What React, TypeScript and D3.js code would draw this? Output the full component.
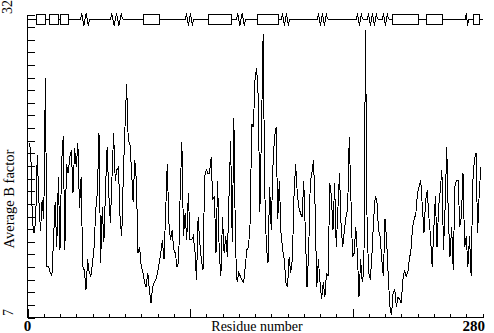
import React from "react";
import * as d3 from "d3";

// Average B factor per residue, residues 1..279
const bFactors: number[] = [
  21.4, 20.8, 14.9, 14.0, 14.9, 20.4, 16.7, 14.1, 16.7, 15.1,
  26.8, 11.2, 11.2, 10.7, 10.4, 13.4, 16.5, 12.8, 18.6, 12.6,
  19.8, 22.0, 12.6, 19.7, 18.9, 20.2, 20.8, 17.3, 21.0, 19.4,
  21.4, 16.0, 18.6, 11.2, 10.9, 9.3, 11.8, 10.7, 10.4, 11.5,
  12.8, 15.9, 17.3, 22.2,
  11.5, 16.1, 13.2, 17.5, 21.1, 17.3, 14.8, 18.6, 22.2, 18.3,
  19.2, 19.4, 15.1, 13.7, 18.9, 22.7, 26.3, 21.6, 21.4, 19.2,
  16.5, 20.0, 18.3, 12.3, 12.8, 11.2, 10.7, 9.9, 9.5, 10.7,
  9.3, 8.2, 9.5, 9.9, 10.1, 10.7, 11.5, 12.3, 13.4, 11.8,
  15.6, 19.7, 14.8, 13.4, 14.2, 12.6, 12.3, 11.2,
  11.5, 17.5, 21.5, 13.7, 15.6, 13.4, 17.3, 13.4, 13.4, 13.7,
  12.6, 10.1, 15.3, 13.2, 11.8, 10.9, 18.6, 19.2, 18.9, 18.9,
  20.2, 16.7, 17.0, 12.3, 18.3, 12.3, 10.4, 15.3, 12.3, 13.7,
  12.0, 17.0, 21.6, 13.2, 23.5, 12.8, 9.9, 10.7, 10.4, 10.1,
  9.9, 11.2, 12.6, 12.8, 14.8, 23.0, 22.7, 26.6,
  27.6, 25.2, 15.7, 22.5, 30.4, 17.5, 12.8, 11.5, 17.8, 14.2,
  19.4, 21.9, 22.7, 15.1, 18.3, 14.0, 12.6, 11.8, 9.9, 9.5,
  12.0, 10.7, 11.8, 17.0, 19.7, 17.3, 16.1, 15.6, 15.3, 18.3,
  14.0, 9.5, 12.3, 18.1, 18.9, 20.0, 16.1, 9.5, 11.8, 9.9,
  8.5, 9.9, 8.7, 10.7, 10.4, 18.1, 17.0, 14.2,
  18.1, 12.8, 15.9, 18.9, 14.5, 12.8, 14.2, 15.3, 15.9, 21.9,
  17.0, 12.0, 12.3, 14.5, 12.3, 8.7, 11.8, 9.9, 10.9, 30.7,
  14.2, 10.7, 10.1, 12.3, 15.1, 17.0, 16.7, 14.2, 13.7, 11.8,
  10.4, 15.1, 13.4, 10.4, 7.9, 7.2, 9.1, 9.3, 7.9, 8.7,
  8.5, 8.2, 10.1, 10.9, 10.4, 10.7, 11.8, 12.6,
  14.5, 15.1, 15.6, 17.3, 17.8, 18.3, 16.1, 14.0, 16.7, 17.5,
  15.3, 13.7, 11.2, 14.2, 17.0, 12.8, 16.1, 17.5, 19.2, 12.6,
  16.1, 21.1, 15.1, 12.0, 14.5, 10.9, 17.8, 18.3, 18.3, 14.5,
  15.3, 18.9, 12.8, 13.7, 11.2, 13.7, 10.4, 18.1, 20.0, 20.6,
  14.0, 17.3, 19.4,
];
const firstResidue = 1;

// Secondary structure (residue ranges)
const strands: [number, number][] = [
  [5, 11], [13, 19], [20, 25], [71, 81], [111, 125], [141, 154],
  [224, 240], [245, 255], [274, 278],
];
const helices: [number, number][] = [
  [32, 38], [51, 58], [97, 102], [128, 134], [156, 161], [178, 184],
  [202, 206], [209, 215], [218, 222], [269, 271],
];

const xDomain: [number, number] = [0, 280];
const yDomain: [number, number] = [7, 32];
const xTickLabels = ["0", "280"];
const yTickLabels = ["7", "32"];
const xTitle = "Residue number";
const yTitle = "Average B factor";

const FONT = "'Liberation Serif', 'Times New Roman', serif";

export default function App() {
  const W = 494;
  const H = 333;
  const x = d3.scaleLinear().domain(xDomain).range([27.5, 482.5]);
  const y = d3.scaleLinear().domain(yDomain).range([317.5, 14.5]);

  const linePath =
    d3
      .line<number>()
      .x((_, i) => x(i + firstResidue))
      .y((d) => y(d))(bFactors) || "";

  const xTicks = d3.range(xDomain[0], xDomain[1] + 1, 10);
  const nY = 24;
  const yTicks = d3.range(0, nY + 1).map(
    (i) => yDomain[0] + (i * (yDomain[1] - yDomain[0])) / nY
  );

  const ssY = 19.5;
  const ssHalf = 5;
  const px = (r: number) => Math.round(x(r)) + 0.5;

  const helixPath = (a: number, b: number) => {
    const x0 = px(a);
    const x1 = px(b);
    const w = x1 - x0;
    const n = Math.max(2, Math.round(w / 2.2));
    const pts: [number, number][] = [[x0, ssY]];
    for (let i = 0; i < n; i++) {
      const xx = x0 + ((i + 0.5) * w) / n;
      pts.push([xx, i % 2 === 0 ? ssY - ssHalf - 1 : ssY + ssHalf + 1]);
    }
    pts.push([x1, ssY]);
    return d3.line()(pts) || "";
  };

  return (
    <svg
      width={W}
      height={H}
      style={{ position: "absolute", left: 0, top: 0, background: "#fff" }}
      shapeRendering="crispEdges"
    >
      <rect x={0} y={0} width={W} height={H} fill="#fff" />
      {/* secondary structure track */}
      <line x1={x(0)} x2={x(280)} y1={ssY} y2={ssY} stroke="#000" />
      {helices.map(([a, b], i) => (
        <g key={"h" + i}>
          <rect x={px(a)} y={ssY - 1} width={px(b) - px(a)} height={2} fill="#fff" />
          <path d={helixPath(a, b)} fill="none" stroke="#000" strokeWidth={1} />
        </g>
      ))}
      {strands.map(([a, b], i) => (
        <rect
          key={"s" + i}
          x={px(a)}
          y={ssY - ssHalf}
          width={px(b) - px(a)}
          height={ssHalf * 2}
          fill="#fff"
          stroke="#000"
        />
      ))}

      {/* axes */}
      <line x1={x(0)} x2={x(0)} y1={y(yDomain[1])} y2={y(yDomain[0])} stroke="#000" />
      <line x1={x(0)} x2={x(280)} y1={y(yDomain[0])} y2={y(yDomain[0])} stroke="#000" />
      {yTicks.map((t, i) => (
        <line key={"yt" + i} x1={x(0)} x2={x(0) + 7} y1={Math.round(y(t)) + 0.5} y2={Math.round(y(t)) + 0.5} stroke="#000" />
      ))}
      {xTicks.map((t) => (
        <line
          key={"xt" + t}
          x1={px(t)}
          x2={px(t)}
          y1={y(yDomain[0])}
          y2={y(yDomain[0]) - (t % 100 === 0 ? 9 : 4)}
          stroke="#000"
        />
      ))}

      {/* data */}
      <path d={linePath} fill="none" stroke="#000" strokeWidth={1} />

      {/* labels */}
      <text x={x(0)} y={331} fontFamily={FONT} fontSize={15} fontWeight="bold" textAnchor="middle">
        {xTickLabels[0]}
      </text>
      <text x={485} y={331} fontFamily={FONT} fontSize={15} fontWeight="bold" textAnchor="end">
        {xTickLabels[1]}
      </text>
      <text x={257} y={331} fontFamily={FONT} fontSize={14} textAnchor="middle">
        {xTitle}
      </text>
      <text
        transform={`translate(13,${y(yDomain[0]) - 5}) rotate(-90)`}
        fontFamily={FONT}
        fontSize={14}
        textAnchor="middle"
      >
        {yTickLabels[0]}
      </text>
      <text
        transform={`translate(12,7) rotate(-90)`}
        fontFamily={FONT}
        fontSize={14}
        textAnchor="middle"
      >
        {yTickLabels[1]}
      </text>
      <text
        transform={`translate(14,199) rotate(-90)`}
        fontFamily={FONT}
        fontSize={14.5}
        textAnchor="middle"
      >
        {yTitle}
      </text>
    </svg>
  );
}
